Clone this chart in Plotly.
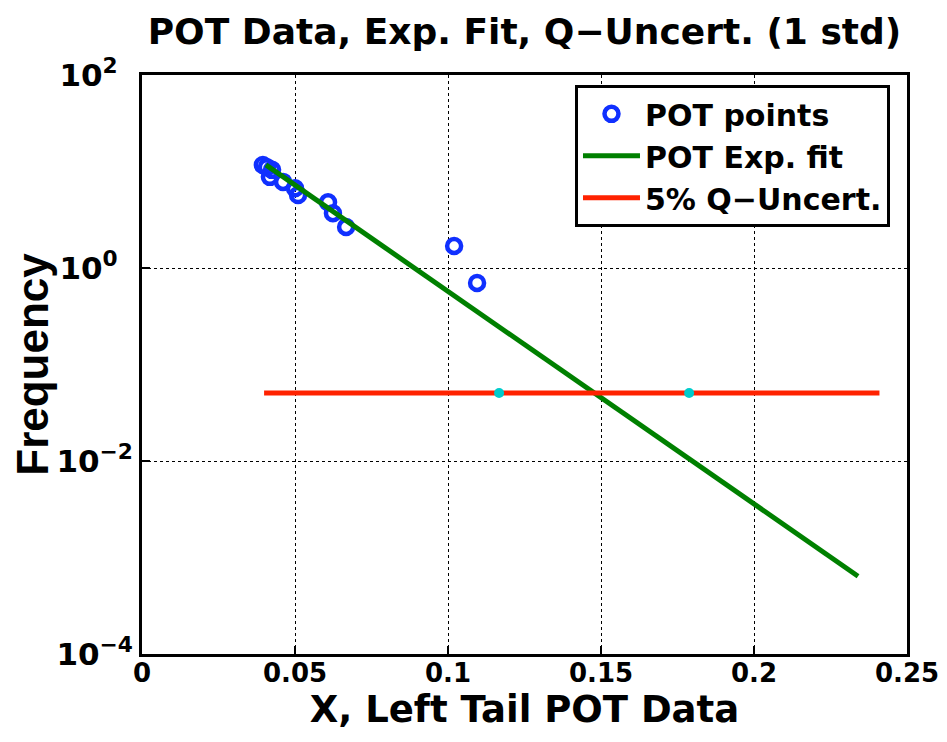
import plotly.graph_objects as go

pot_x = [0.0395, 0.0408, 0.0425, 0.0418, 0.0461, 0.0500, 0.0510, 0.0608, 0.0624, 0.0667, 0.1020, 0.1095]
pot_y = [11.7, 11.1, 10.4, 8.8, 7.8, 6.7, 5.7, 4.8, 3.7, 2.66, 1.69, 0.70]

fit_x = [0.0405, 0.234]
fit_y = [11.7, 6.4e-4]

q_x = [0.0399, 0.241]
q_y = [0.0507, 0.0507]

qb_x = [0.1167, 0.1788]
qb_y = [0.0507, 0.0507]

xticks = [0, 0.05, 0.1, 0.15, 0.2, 0.25]
xtick_labels = ["0", "0.05", "0.1", "0.15", "0.2", "0.25"]
yticks = [1e-4, 1e-2, 1e0, 1e2]
ytick_labels = ["10<sup>−4</sup>", "10<sup>−2</sup>", "10<sup>0\u2007</sup>", "10<sup>2\u2007</sup>"]

font = "DejaVu Sans, sans-serif"
font2 = "Liberation Sans, Arial, sans-serif"

fig = go.Figure()
fig.add_trace(go.Scatter(x=pot_x, y=pot_y, mode="markers", name="POT points", legendgroup="a",
                         marker=dict(symbol="circle-open", size=14, color="#1030ff",
                                     line=dict(width=4.5, color="#1030ff"))))
fig.add_trace(go.Scatter(x=fit_x, y=fit_y, mode="lines", name="POT Exp. fit", legendgroup="b",
                         line=dict(color="#008000", width=5)))
fig.add_trace(go.Scatter(x=q_x, y=q_y, mode="lines", name="5% Q−Uncert.", legendgroup="c",
                         line=dict(color="#ff2200", width=5)))
fig.add_trace(go.Scatter(x=qb_x, y=qb_y, mode="markers", showlegend=False,
                         marker=dict(symbol="circle", size=10, color="#00cccc")))

axis_common = dict(showline=True, linecolor="black", linewidth=3, mirror=True,
                   ticks="inside", ticklen=8, tickwidth=2, tickcolor="black",
                   showgrid=True, gridcolor="black", griddash="dot", gridwidth=1,
                   zeroline=False, automargin=False)

fig.update_xaxes(range=[0, 0.25], tickvals=xticks, ticktext=xtick_labels,
                 tickfont=dict(family=font, size=26, color="black", weight="bold"),
                 ticklabelstandoff=-6,
                 title=dict(text="<b>X, Left Tail POT Data</b>", standoff=0,
                            font=dict(family=font, size=37, color="black")),
                 **axis_common)
fig.update_yaxes(type="log", range=[-4, 2], tickvals=yticks, ticktext=ytick_labels,
                 tickfont=dict(family=font, size=31, color="black", weight="bold"),
                 title=dict(text="<b>Frequency</b>", standoff=10,
                            font=dict(family=font2, size=44, color="black")),
                 **axis_common)

fig.update_layout(
    width=947, height=742,
    margin=dict(l=134, r=48, t=67, b=96),
    plot_bgcolor="white", paper_bgcolor="white",
    title=dict(text="<b>POT Data, Exp. Fit, Q−Uncert. (1 std)</b>", x=0.5, xref="paper",
               xanchor="center", y=0.969, yref="container", yanchor="middle",
               font=dict(family=font, size=36, color="black")),
    legend=dict(x=0.566, y=0.983, xanchor="left", yanchor="top",
                bgcolor="white", bordercolor="black", borderwidth=3,
                font=dict(family=font, size=30, color="black", weight="bold"),
                tracegroupgap=0, itemwidth=57),
    showlegend=True,
)

fig.write_html("out.html")
